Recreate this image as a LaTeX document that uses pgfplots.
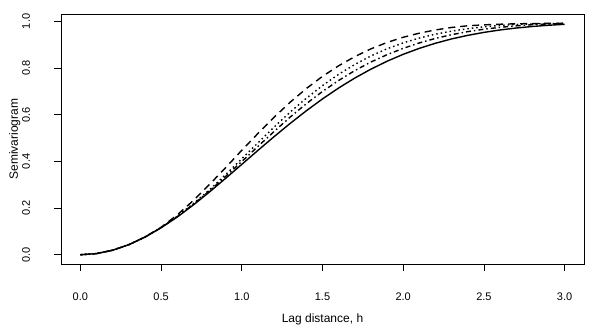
\documentclass[border=0pt]{standalone}
\usepackage{pgfplots}
\pgfplotsset{compat=1.18}
\usepackage{fontspec}
\setmainfont{Liberation Sans}

\begin{document}
\begin{tikzpicture}
\useasboundingbox (-61pt,-63pt) rectangle (538pt,264pt);
\begin{axis}[
    at={(0,0)}, anchor=south west,
    scale only axis,
    width=523pt, height=250pt,
    xmin=-0.12, xmax=3.12, ymin=-0.0397, ymax=1.032,
    xtick={0,0.5,...,3}, ytick={0,0.2,...,1},
    xtick pos=left, ytick pos=left,
    tick align=outside, major tick length=7pt,
    tick style={black, line width=0.6pt},
    axis line style={black, line width=0.8pt},
    xticklabel={\pgfmathprintnumber[fixed,fixed zerofill,precision=1]{\tick}},
    yticklabel={\pgfmathprintnumber[fixed,fixed zerofill,precision=1]{\tick}},
    /pgf/number format/assume math mode=true,
    every tick label/.append style={font=\fontsize{11}{13}\selectfont},
    xticklabel style={anchor=base, yshift=-29pt},
    yticklabel style={rotate=90, anchor=base, yshift=24pt},
    xlabel={Lag distance, h}, ylabel={Semivariogram},
    label style={font=\fontsize{12}{14}\selectfont},
    xlabel style={at={(axis description cs:0.5,0)}, anchor=base, yshift=-58pt},
    ylabel style={at={(axis description cs:0,0.5)}, anchor=base, yshift=43pt},
    every axis plot/.append style={black, line width=1.4pt, no markers},
]
% solid
\addplot[solid] coordinates {
(0,0) (0.1,0.0049) (0.2,0.0194) (0.3,0.0431) (0.4,0.0754) (0.5,0.1153)
(0.6,0.1617) (0.7,0.2134) (0.8,0.2692) (0.9,0.3276) (1.0,0.3874)
(1.1,0.4473) (1.2,0.5062) (1.3,0.5631) (1.4,0.6173) (1.5,0.6680)
(1.6,0.7148) (1.7,0.7574) (1.8,0.7956) (1.9,0.8295) (2.0,0.8592)
(2.1,0.8848) (2.2,0.9067) (2.3,0.9252) (2.4,0.9405) (2.5,0.9532)
(2.6,0.9636) (2.7,0.9719) (2.8,0.9785) (2.9,0.9838) (3.0,0.9878)};
% dashed
\addplot[dash pattern=on 7pt off 5pt] coordinates {
(0,0) (0.1,0.0049) (0.2,0.0194) (0.3,0.0431) (0.4,0.0761) (0.5,0.1175)
(0.6,0.1707) (0.7,0.2325) (0.8,0.3012) (0.9,0.3734) (1.0,0.4479)
(1.1,0.5197) (1.2,0.5893) (1.3,0.6540) (1.4,0.7125) (1.5,0.7647)
(1.6,0.8101) (1.7,0.8494) (1.8,0.8826) (1.9,0.9100) (2.0,0.9323)
(2.1,0.9499) (2.2,0.9637) (2.3,0.9743) (2.4,0.9815) (2.5,0.9855)
(2.6,0.9882) (2.7,0.9900) (2.8,0.9910) (2.9,0.9917) (3.0,0.9920)};
% dotted
\addplot[dash pattern=on 1.5pt off 3pt] coordinates {
(0,0) (0.1,0.0049) (0.2,0.0194) (0.3,0.0431) (0.4,0.0761) (0.5,0.1175)
(0.6,0.1647) (0.7,0.2193) (0.8,0.2785) (0.9,0.3437) (1.0,0.4114)
(1.1,0.4797) (1.2,0.5471) (1.3,0.6119) (1.4,0.6709) (1.5,0.7251)
(1.6,0.7735) (1.7,0.8156) (1.8,0.8522) (1.9,0.8829) (2.0,0.9082)
(2.1,0.9291) (2.2,0.9455) (2.3,0.9586) (2.4,0.9690) (2.5,0.9771)
(2.6,0.9830) (2.7,0.9870) (2.8,0.9895) (2.9,0.9910) (3.0,0.9918)};
% dot-dash
\addplot[dash pattern=on 1.5pt off 3pt on 5pt off 3pt] coordinates {
(0,0) (0.1,0.0049) (0.2,0.0194) (0.3,0.0431) (0.4,0.0754) (0.5,0.1164)
(0.6,0.1632) (0.7,0.2165) (0.8,0.2739) (0.9,0.3357) (1.0,0.3995)
(1.1,0.4644) (1.2,0.5284) (1.3,0.5903) (1.4,0.6475) (1.5,0.7000)
(1.6,0.7471) (1.7,0.7894) (1.8,0.8262) (1.9,0.8576) (2.0,0.8847)
(2.1,0.9080) (2.2,0.9274) (2.3,0.9434) (2.4,0.9564) (2.5,0.9668)
(2.6,0.9749) (2.7,0.9812) (2.8,0.9861) (2.9,0.9895) (3.0,0.9912)};
\end{axis}
\end{tikzpicture}
\end{document}
